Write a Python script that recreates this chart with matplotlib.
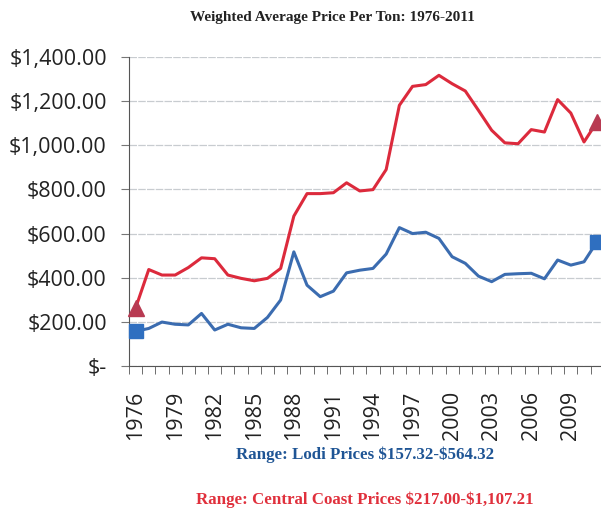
import matplotlib.pyplot as plt
from matplotlib.ticker import FuncFormatter, FixedLocator

# Data
years = list(range(1976, 2012))
central_coast = [262, 437, 412, 412, 446, 490, 486, 412, 397, 386, 397, 442,
                 679, 781, 781, 785, 830, 793, 799, 890, 1181, 1267, 1275, 1317,
                 1279, 1246, 1158, 1068, 1011, 1007, 1071, 1060, 1207, 1146, 1015, 1107]
lodi = [157, 170, 199, 189, 186, 238, 163, 189, 173, 170, 220, 299,
        517, 366, 314, 339, 422, 434, 442, 507, 627, 600, 606, 578,
        495, 465, 407, 382, 415, 418, 420, 395, 480, 457, 472, 564]
label_years = list(range(1976, 2012, 3))
y_ticks = [0, 200, 400, 600, 800, 1000, 1200, 1400]

title = "Weighted Average Price Per Ton: 1976-2011"
lodi_range = r"Range: Lodi Prices \$157.32-\$564.32"
coast_range = r"Range: Central Coast Prices \$217.00-\$1,107.21"

red = "#dc2a3c"
blue = "#3b6cb0"

fig = plt.figure(figsize=(6.01, 5.09), dpi=100)
ax = fig.add_axes([0.2146, 0.281, 0.785, 0.607])

ax.plot(years, central_coast, color=red, lw=2.2, zorder=3)
ax.plot(years, lodi, color=blue, lw=2.2, zorder=3)

# end markers
ax.plot([years[0], years[-1]], [central_coast[0], central_coast[-1]],
        ls="none", marker="^", ms=11, color="#b83a52", zorder=4, clip_on=False)
ax.plot([years[0], years[-1]], [lodi[0], lodi[-1]],
        ls="none", marker="s", ms=10.5, color="#2f6fc0", zorder=4, clip_on=False)

ax.set_xlim(1975.5, 2011.27)
ax.set_ylim(0, 1400)

ax.set_yticks(y_ticks)
ax.yaxis.set_major_formatter(FuncFormatter(lambda v, p: "$-" if v == 0 else f"${v:,.2f}"))
ax.grid(axis="y", color="#c8ccd0", lw=0.9, ls=(0, (6, 1)))
ax.set_axisbelow(True)

ax.set_xticks(label_years)
ax.set_xticklabels([str(y) for y in label_years], rotation=90)
ax.xaxis.set_minor_locator(FixedLocator([y - 0.5 for y in years] + [2011.5]))
ax.tick_params(axis="x", which="major", length=0, pad=18)
ax.tick_params(axis="x", which="minor", length=6, color="#555555")
ax.tick_params(axis="y", length=6, color="#777777", pad=10)

for lbl in ax.get_xticklabels() + ax.get_yticklabels():
    lbl.set_fontfamily("Open Sans")
    lbl.set_fontsize(15.5)
    lbl.set_color("#222222")

for side in ["top", "right"]:
    ax.spines[side].set_visible(False)
ax.spines["left"].set_color("#555555")
ax.spines["bottom"].set_color("#555555")

fig.text(0.553, 0.965, title, ha="center", va="center",
         fontfamily="Liberation Serif", fontweight="bold", fontsize=11, color="#222222")
fig.text(0.608, 0.106, lodi_range, ha="center", va="center",
         fontfamily="Liberation Serif", fontweight="bold", fontsize=12.2, color="#1f5595")
fig.text(0.607, 0.018, coast_range, ha="center", va="center",
         fontfamily="Liberation Serif", fontweight="bold", fontsize=12.2, color="#e0303c")

fig.savefig("out.png", dpi=100)
